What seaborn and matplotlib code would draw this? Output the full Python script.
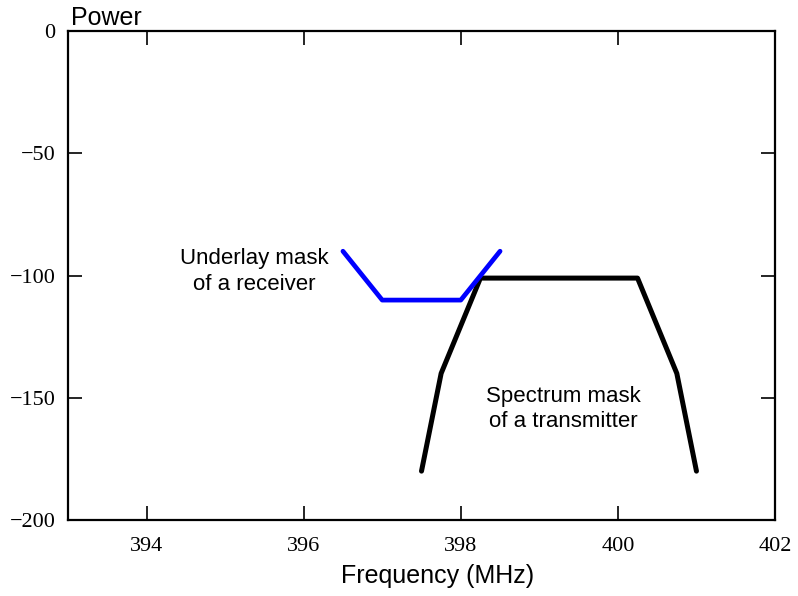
import numpy as np
import pandas as pd
import seaborn as sns
import matplotlib.pyplot as plt

# transmitter spectrum mask (black)
tx_freq = [397.5, 397.75, 398.25, 400.25, 400.75, 401.0]
tx_power = [-180, -140, -101, -101, -140, -180]

# receiver underlay mask (blue)
rx_freq = [396.5, 397.0, 398.0, 398.5]
rx_power = [-90, -110, -110, -90]

x_ticks = [394, 396, 398, 400, 402]
y_ticks = [0, -50, -100, -150, -200]

sns.set_theme(style='white')
plt.rcParams['font.family'] = ['Liberation Sans', 'DejaVu Sans']

tx = pd.DataFrame({'freq': tx_freq, 'power': tx_power})
rx = pd.DataFrame({'freq': rx_freq, 'power': rx_power})

fig = plt.figure(figsize=(7.98, 5.96), dpi=100)
ax = fig.add_axes([0.0852, 0.1275, 0.8860, 0.8200])

sns.lineplot(data=tx, x='freq', y='power', sort=False, color='black',
             lw=3.6, solid_capstyle='round', ax=ax)
sns.lineplot(data=rx, x='freq', y='power', sort=False, color='#0000ff',
             lw=3.4, solid_capstyle='round', ax=ax)

ax.set_xlim(393, 402)
ax.set_ylim(-200, 0)
ax.set_xticks(x_ticks)
ax.set_yticks(y_ticks)
ax.set_xlabel('')
ax.set_ylabel('')

for s in ax.spines.values():
    s.set_visible(True)
    s.set_color('black')
    s.set_linewidth(1.6)

ax.tick_params(direction='in', length=10, width=1.2, color='black',
               top=True, right=True, bottom=True, left=True,
               labelsize=16, labelcolor='black')
ax.tick_params(axis='x', pad=12)
ax.tick_params(axis='y', pad=9)
for lab in ax.get_xticklabels() + ax.get_yticklabels():
    lab.set_family('Liberation Serif')

# annotations (anchored on the baseline of the last line)
ax.text(395.37, -105.7, 'Underlay mask\nof a receiver', ha='center',
        va='baseline', fontsize=16, color='black', linespacing=1.28)
ax.text(399.31, -162.1, 'Spectrum mask\nof a transmitter', ha='center',
        va='baseline', fontsize=16, color='black', linespacing=1.28)

fig.text(71 / 798, 1 - 25 / 596, 'Power', ha='left', va='baseline',
         fontsize=18, color='black')
fig.text(438 / 798, 1 - 583 / 596, 'Frequency (MHz)', ha='center',
         va='baseline', fontsize=18, color='black')

fig.savefig('out.png', dpi=100)
